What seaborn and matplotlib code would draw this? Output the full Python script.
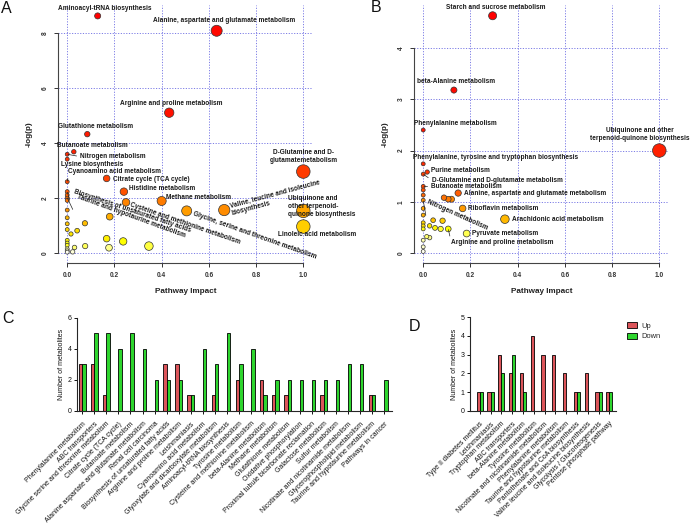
import colorsys
import numpy as np
import pandas as pd
import seaborn as sns
import matplotlib.pyplot as plt
from matplotlib.patches import Patch

# ---------------- panel A: pathway analysis (first comparison) ----------------
a_names = [
    "Aminoacyl-tRNA biosynthesis", "Alanine, aspartate and glutamate metabolism",
    "Arginine and proline metabolism", "Glutathione metabolism", "Butanoate metabolism",
    "Nitrogen metabolism", "Lysine biosynthesis", "D-Glutamine and D-glutamate metabolism",
    "Citrate cycle (TCA cycle)", "Cyanoamino acid metabolism", "Histidine metabolism",
    "Biosynthesis of unsaturated fatty acids", "Taurine and hypotaurine metabolism",
    "Methane metabolism", "Cysteine and methionine metabolism",
    "Valine, leucine and isoleucine biosynthesis", "Glycine, serine and threonine metabolism",
    "Ubiquinone and other terpenoid-quinone biosynthesis", "Linoleic acid metabolism",
] + [""] * 23
a_impact = [0.129, 0.633, 0.432, 0.085, 0.028, 0.0, 0.0, 1.0, 0.167, 0.0, 0.24, 0.0, 0.0,
            0.40, 0.249, 0.665, 0.506, 1.0, 1.0,
            0.0, 0.0, 0.0, 0.18, 0.0, 0.075, 0.0, 0.0, 0.042, 0.016, 0.167, 0.0, 0.237,
            0.0, 0.0, 0.346, 0.076, 0.031, 0.177, 0.0, 0.0, 0.023, 0.0]
a_logp = [8.61, 8.07, 5.09, 4.31, 3.67, 3.58, 3.40, 2.95, 2.70, 2.58, 2.22, 2.22, 2.00,
          1.88, 1.83, 1.55, 1.52, 1.52, 0.95,
          2.10, 1.90, 1.55, 1.31, 1.27, 1.07, 1.05, 0.84, 0.80, 0.68, 0.51, 0.45, 0.41,
          0.35, 0.27, 0.24, 0.24, 0.19, 0.18, 0.14, 0.07, 0.03, 0.02]

# ---------------- panel B: pathway analysis (second comparison) ----------------
b_names = [
    "Starch and sucrose metabolism", "beta-Alanine metabolism", "Phenylalanine metabolism",
    "Ubiquinone and other terpenoid-quinone biosynthesis",
    "Phenylalanine, tyrosine and tryptophan biosynthesis", "Purine metabolism",
    "D-Glutamine and D-glutamate metabolism", "Butanoate metabolism",
    "Alanine, aspartate and glutamate metabolism", "Nitrogen metabolism",
    "Riboflavin metabolism", "Arachidonic acid metabolism",
    "Arginine and proline metabolism", "Pyruvate metabolism",
] + [""] * 20
b_impact = [0.294, 0.13, 0.0, 1.0, 0.0, 0.017, 0.0, 0.0, 0.148, 0.0, 0.167, 0.346, 0.106, 0.184,
            0.0, 0.0, 0.088, 0.106, 0.12, 0.0, 0.0, 0.042, 0.082, 0.0, 0.0, 0.027, 0.05,
            0.0, 0.074, 0.015, 0.027, 0.0, 0.0, 0.0]
b_logp = [4.63, 3.18, 2.40, 2.00, 1.74, 1.58, 1.54, 1.30, 1.17, 1.03, 0.87, 0.66, 0.47, 0.38,
          1.23, 1.13, 1.08, 1.05, 1.05, 0.87, 0.74, 0.64, 0.63, 0.59, 0.53, 0.53, 0.49,
          0.47, 0.47, 0.32, 0.30, 0.25, 0.12, 0.03]

# ---------------- panel C: metabolites per pathway ----------------
c_paths = [
    "Phenylalanine metabolism", "ABC transporters", "Glycine serine and threonine metabolism",
    "Citrate cycle (TCA cycle)", "Butanoate metabolism",
    "Alanine aspartate and glutamate metabolism", "Renal cell carcinoma",
    "Biosynthesis of unsaturated fatty acids", "Arginine and proline metabolism",
    "Leishmaniasis", "Cyanoamino acid metabolism", "Glyoxylate and dicarboxylate metabolism",
    "Aminoacyl-tRNA biosynthesis", "Tyrosine metabolism", "Cysteine and methionine metabolism",
    "beta-Alanine metabolism", "Methane metabolism", "Glutathione metabolism",
    "Oxidative phosphorylation", "Proximal tubule bicarbonate reclamation",
    "Galactose metabolism", "Sulfur metabolism", "Nicotinate and nicotinamide metabolism",
    "Glycerophospholipid metabolism", "Taurine and hypotaurine metabolism", "Pathways in cancer",
]
c_up = [3, 3, 1, 0, 0, 0, 0, 3, 3, 1, 0, 1, 0, 2, 0, 2, 1, 1, 0, 0, 1, 0, 0, 0, 1, 0]
c_down = [3, 5, 5, 4, 5, 4, 2, 2, 2, 1, 4, 3, 5, 3, 4, 1, 2, 2, 2, 2, 2, 2, 3, 3, 1, 2]

# ---------------- panel D: metabolites per pathway ----------------
d_paths = [
    "Type II diabetes mellitus", "Leishmaniasis", "Tryptophan metabolism", "ABC transporters",
    "beta-Alanine metabolism", "Tyrosine metabolism", "Nicotinate and nicotinamide metabolism",
    "Phenylalanine metabolism", "Taurine and hypotaurine metabolism",
    "Pantothenate and CoA biosynthesis", "Valine leucine and isoleucine biosynthesis",
    "Glycolysis / Gluconeogenesis", "Pentose phosphate pathway",
]
d_up = [1, 1, 3, 2, 2, 4, 3, 3, 2, 1, 2, 1, 1]
d_down = [1, 1, 2, 3, 1, 0, 0, 0, 0, 1, 0, 1, 1]

# label placement (offset in points from the bubble), layout only
a_layout = {
    "Aminoacyl-tRNA biosynthesis": dict(off=(5.3, 5.5)),
    "Alanine, aspartate and glutamate metabolism": dict(off=(5.3, 7.7)),
    "Arginine and proline metabolism": dict(off=(1.2, 6.8)),
    "Glutathione metabolism": dict(off=(5.8, 5.5)),
    "Butanoate metabolism": dict(off=(13.7, 4.8)),
    "Nitrogen metabolism": dict(off=(9.1, -1.7), ha="left", line=True),
    "Lysine biosynthesis": dict(off=(17.6, -3.9)),
    "Cyanoamino acid metabolism": dict(off=(34.4, 7.2), line=True, relpos=(0, 0)),
    "Citrate cycle (TCA cycle)": dict(off=(4.3, -0.5), ha="left"),
    "Histidine metabolism": dict(off=(3.6, 2.4), ha="left"),
    "Methane metabolism": dict(off=(3.2, 2.4), ha="left"),
    "D-Glutamine and D-glutamate metabolism": dict(off=(0, 11.1), text="D-Glutamine and D-\nglutamatemetabolism"),
    "Ubiquinone and other terpenoid-quinone biosynthesis": dict(
        off=(-10.8, 3.1), ha="left", text="Ubiquinone and\nother terpenoid-\nquinone biosynthesis"),
    "Linoleic acid metabolism": dict(off=(-18, -5.5), ha="left"),
    "Valine, leucine and isoleucine biosynthesis": dict(
        off=(4.8, 0), ha="left", rot=15, text="Valine, leucine and isoleucine\nbiosynthesis"),
    "Glycine, serine and threonine metabolism": dict(off=(4.8, -1.7), ha="left", rot=-19.5),
    "Cysteine and methionine metabolism": dict(off=(2.9, -1.9), ha="left", rot=-19),
    "Biosynthesis of unsaturated fatty acids": dict(off=(4.8, 0), ha="left", rot=-18.5, line=True),
    "Taurine and hypotaurine metabolism": dict(off=(7.2, 0.7), ha="left", rot=-20, line=True),
}
b_layout = {
    "Starch and sucrose metabolism": dict(off=(2.6, 6.3)),
    "beta-Alanine metabolism": dict(off=(1.9, 6.0)),
    "Phenylalanine metabolism": dict(off=(22.8, 4.8)),
    "Ubiquinone and other terpenoid-quinone biosynthesis": dict(
        off=(-13.9, 11.5), text="Ubiquinone and other\nterpenoid-quinone biosynthesis"),
    "Phenylalanine, tyrosine and tryptophan biosynthesis": dict(off=(52.3, 4.8)),
    "Purine metabolism": dict(off=(2.7, 1.2), ha="left"),
    "D-Glutamine and D-glutamate metabolism": dict(off=(6, -4.3), ha="left", line=True),
    "Butanoate metabolism": dict(off=(5.5, 0), ha="left", line=True),
    "Alanine, aspartate and glutamate metabolism": dict(off=(4.1, 0), ha="left"),
    "Nitrogen metabolism": dict(off=(2.9, -1.2), ha="left", rot=-24, line=True),
    "Riboflavin metabolism": dict(off=(4, 0), ha="left"),
    "Arachidonic acid metabolism": dict(off=(4.8, 0), ha="left"),
    "Arginine and proline metabolism": dict(off=(1.7, -10), ha="left", line=True, relpos=(0, 1)),
    "Pyruvate metabolism": dict(off=(3.6, 0), ha="left"),
}

W, H = 696, 529
RED, GREEN = "#DC555A", "#2ED62E"
GRID = "#7474e4"

sns.set_style("ticks")
plt.rcParams["font.family"] = ["Liberation Sans", "DejaVu Sans"]


def px_axes(fig, left, top, right, bottom):
    return fig.add_axes([left / W, 1 - bottom / H, (right - left) / W, (bottom - top) / H])


def heat_colors(n):
    # same ramp as R's heat.colors()
    j = n // 4
    i = n - j
    cols = [colorsys.hsv_to_rgb(h, 1, 1) for h in np.linspace(0, 1 / 6, i)]
    cols += [colorsys.hsv_to_rgb(1 / 6, s, 1) for s in np.linspace(1 - 1 / (2 * j), 1 / (2 * j), j)]
    return cols


def bubble_panel(ax, names, impact, logp, layout, yticks, ylim):
    df = pd.DataFrame({"name": names, "impact": impact, "logp": logp})
    df["rank"] = df["logp"].rank(method="first", ascending=False).astype(int) - 1
    cols = heat_colors(len(df))
    pal = {r: cols[r] for r in df["rank"]}
    df = df.sort_values("impact", ascending=False, kind="stable")
    sns.scatterplot(data=df, x="impact", y="logp", hue="rank", palette=pal,
                    size="impact", sizes=(8, 95), size_norm=(0, 1),
                    edgecolor="#333333", linewidth=0.5, legend=False, ax=ax, zorder=3)

    for n, x, y in zip(names, impact, logp):
        st = layout.get(n)
        if st is None:
            continue
        arrow = None
        if st.get("line"):
            arrow = dict(arrowstyle="-", lw=0.5, color="#222222", shrinkA=0, shrinkB=0.5,
                         relpos=st.get("relpos", (0, 0.5)))
        ax.annotate(st.get("text", n), xy=(x, y), xytext=st["off"], textcoords="offset points",
                    ha=st.get("ha", "center"), va="center", rotation=st.get("rot", 0),
                    rotation_mode="anchor", fontsize=4.7, fontweight="bold", color="#1a1a1a",
                    arrowprops=arrow, annotation_clip=False, zorder=4)

    ax.set_xlim(-0.039, 1.041)
    ax.set_ylim(*ylim)
    ax.set_xticks([0, 0.2, 0.4, 0.6, 0.8, 1.0])
    ax.set_xticklabels(["0.0", "0.2", "0.4", "0.6", "0.8", "1.0"])
    ax.set_yticks(yticks)
    ax.set_axisbelow(True)
    ax.grid(True, color=GRID, linestyle=(0, (1.3, 1.7)), linewidth=0.65)
    sns.despine(ax=ax)
    ax.spines["left"].set_bounds(0, yticks[-1])
    ax.spines["bottom"].set_bounds(0, 1)
    for s in ("left", "bottom"):
        ax.spines[s].set_color("#444444")
        ax.spines[s].set_linewidth(0.8)
    ax.tick_params(length=3, width=0.7, pad=3.5, labelsize=4.7, colors="#333333")
    for lab in ax.get_xticklabels() + ax.get_yticklabels():
        lab.set_fontweight("bold")
    for lab in ax.get_yticklabels():
        lab.set_rotation(90)
        lab.set_va("center")
    ax.set_xlabel("Pathway Impact", fontsize=5.9, fontweight="bold", color="#222222")
    ax.set_ylabel("-log(p)", fontsize=5.9, fontweight="bold", color="#222222")
    ax.xaxis.set_label_coords(0.5, -0.097)
    ax.yaxis.set_label_coords(-0.1, 0.5)


def bar_panel(ax, paths, up, down, ymax, yticks, xlim, legend=False):
    df = pd.DataFrame({
        "pathway": paths * 2,
        "count": up + down,
        "group": ["Up"] * len(paths) + ["Down"] * len(paths),
    })
    sns.barplot(data=df, x="pathway", y="count", hue="group", order=paths,
                hue_order=["Up", "Down"], palette={"Up": RED, "Down": GREEN},
                width=0.56, saturation=1, edgecolor="black", linewidth=0.6,
                errorbar=None, legend=False, ax=ax)
    ax.set_xlim(*xlim)
    ax.set_ylim(0, ymax)
    ax.set_yticks(yticks)
    ax.set_xticks(range(len(paths)))
    ax.set_xticklabels(paths, rotation=45, ha="right", rotation_mode="anchor")
    sns.despine(ax=ax)
    for s in ("left", "bottom"):
        ax.spines[s].set_linewidth(0.8)
    ax.tick_params(length=2, width=0.7, pad=2, labelsize=5, colors="#111111")
    ax.tick_params(axis="x", pad=5)
    ax.set_xlabel("")
    ax.set_ylabel("Number of metabolites", fontsize=5, color="#111111", labelpad=2)
    if legend:
        handles = [Patch(facecolor=RED, edgecolor="black", linewidth=0.6, label="Up"),
                   Patch(facecolor=GREEN, edgecolor="black", linewidth=0.6, label="Down")]
        ax.legend(handles=handles, loc="upper left", bbox_to_anchor=(622 / W, 1 - 317 / H),
                  bbox_transform=ax.figure.transFigure, frameon=False, fontsize=5.4,
                  handlelength=1.35, handleheight=0.7, handletextpad=0.6,
                  labelspacing=0.5, borderpad=0.2)


fig = plt.figure(figsize=(W / 100, H / 100), dpi=100)

ax_a = px_axes(fig, 58, 5, 313, 263)
bubble_panel(ax_a, a_names, a_impact, a_logp, a_layout, [0, 2, 4, 6, 8], (-0.375, 9.007))

ax_b = px_axes(fig, 414, 5, 669, 263)
bubble_panel(ax_b, b_names, b_impact, b_logp, b_layout, [0, 1, 2, 3, 4], (-0.195, 4.84))

ax_c = px_axes(fig, 77.3, 317.7, 392, 410.7)
bar_panel(ax_c, c_paths, c_up, c_down, 6, [0, 2, 4, 6], (-0.4, 25.65))

ax_d = px_axes(fig, 470, 317.3, 616, 410.7)
bar_panel(ax_d, d_paths, d_up, d_down, 5, [0, 1, 2, 3, 4, 5], (-0.9, 12.62), legend=True)

for letter, x, y in [("A", 1, 1), ("B", 371, 0), ("C", 2, 311), ("D", 409, 319)]:
    fig.text(x / W, 1 - y / H, letter, fontsize=11.5, ha="left", va="top", color="#111111")

fig.savefig("out.png", dpi=100)
